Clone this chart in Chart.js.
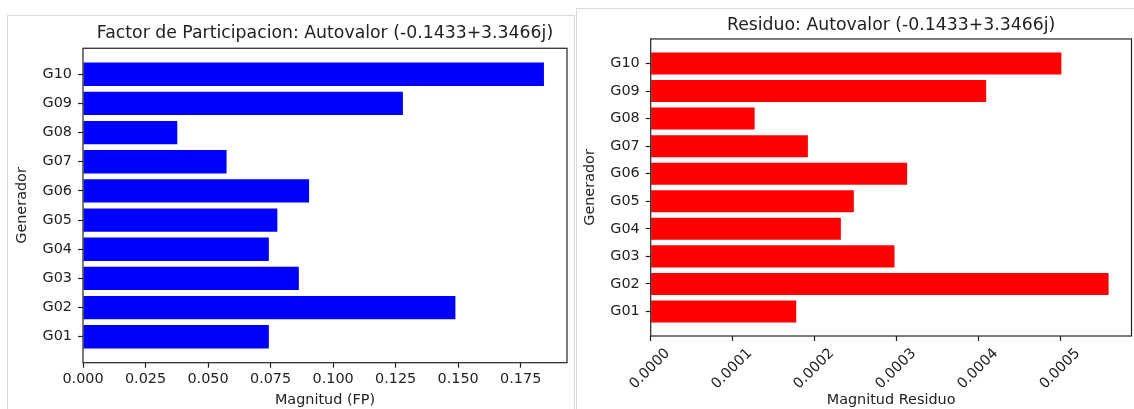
<!DOCTYPE html>
<html>
<head>
<meta charset="utf-8">
<script src="https://cdn.jsdelivr.net/npm/chart.js@4.4.1/dist/chart.umd.min.js"></script>
<style>
  html, body { margin: 0; padding: 0; background: #fff; overflow: hidden; }
  body { width: 1134px; height: 409px; position: relative; }
  .panel { position: absolute; border: 1px solid #dadada; box-sizing: border-box; }
  .box { position: absolute; }
</style>
</head>
<body>
<div class="panel" style="left:7px;top:15px;width:568px;height:420px"></div>
<div class="panel" style="left:576px;top:8px;width:580px;height:420px"></div>
<div class="box" style="left:7px;top:15px;width:567px;height:394px"><canvas id="fpChart"></canvas></div>
<div class="box" style="left:576px;top:8px;width:558px;height:401px"><canvas id="resChart"></canvas></div>
<script>
const generators = ["G01", "G02", "G03", "G04", "G05", "G06", "G07", "G08", "G09", "G10"];
const participation = [0.0743, 0.1489, 0.0863, 0.0743, 0.0777, 0.0904, 0.0574, 0.0377, 0.1279, 0.1843];
const residue = [0.0001774, 0.0005582, 0.0002972, 0.0002318, 0.0002476, 0.0003126, 0.0001916, 0.0001267, 0.000409, 0.0005006];
const fpTicks = [0, 0.025, 0.05, 0.075, 0.1, 0.125, 0.15, 0.175];
const residueTicks = [0, 0.0001, 0.0002, 0.0003, 0.0004, 0.0005];

Chart.defaults.font.family = "'DejaVu Sans', sans-serif";
Chart.defaults.color = "#222222";
Chart.defaults.animation = false;

const ink = "#222222";

// matplotlib-like box around the axes + title centred over the plot area
const axesFrame = {
  id: "axesFrame",
  afterLayout(chart) {
    const t = chart.titleBlock;
    if (t) {
      t.left = chart.chartArea.left;
      t.right = chart.chartArea.right;
      t.width = t.right - t.left;
    }
  },
  afterDatasetsDraw(chart) {
    const { ctx, chartArea: a } = chart;
    ctx.save();
    ctx.strokeStyle = ink;
    ctx.lineWidth = 1.2;
    ctx.strokeRect(a.left, a.top, a.right - a.left, a.bottom - a.top);
    ctx.restore();
  }
};

// bar category limits like matplotlib: bars of width 0.8 plus 5% margin
const span = generators.length - 1 + 0.8;
const yMin = -0.4 - 0.05 * span;
const yMax = generators.length - 1 + 0.4 + 0.05 * span;

function buildChart(id, values, color, ticks, cfg) {
  return new Chart(document.getElementById(id), {
    type: "bar",
    data: {
      datasets: [{
        data: values.map((v, i) => ({ x: v, y: i })),
        backgroundColor: color,
        borderWidth: 0,
        categoryPercentage: 1,
        barPercentage: 0.8
      }]
    },
    options: {
      indexAxis: "y",
      responsive: true,
      maintainAspectRatio: false,
      layout: { padding: { left: 0, right: cfg.padRight, top: 0, bottom: 0 } },
      plugins: {
        legend: { display: false },
        tooltip: { enabled: false },
        title: {
          display: true,
          text: cfg.title,
          color: ink,
          font: { size: 17.3, weight: "normal" },
          padding: cfg.titlePad
        }
      },
      scales: {
        x: {
          type: "linear",
          min: 0,
          max: Math.max(...values) * 1.05,
          offset: false,
          afterBuildTicks: axis => { axis.ticks = ticks.map(v => ({ value: v })); },
          afterFit: axis => { axis.height = cfg.xHeight; },
          ticks: {
            autoSkip: false,
            minRotation: cfg.rotation,
            maxRotation: cfg.rotation,
            labelOffset: cfg.labelOffset,
            padding: cfg.xTickPad,
            color: ink,
            font: { size: 14.4 },
            callback: v => v.toFixed(cfg.decimals)
          },
          grid: { offset: false, drawOnChartArea: false, tickLength: 5, tickColor: ink, tickWidth: 1.2 },
          border: { display: false },
          title: { display: true, text: cfg.xLabel, color: ink, font: { size: 14.4 }, padding: { top: 0, bottom: 0 } }
        },
        y: {
          type: "linear",
          min: yMin,
          max: yMax,
          offset: false,
          afterBuildTicks: axis => { axis.ticks = generators.map((_, i) => ({ value: i })); },
          afterFit: axis => { axis.width = cfg.yWidth; },
          ticks: {
            autoSkip: false,
            padding: 6,
            color: ink,
            font: { size: 14.4 },
            callback: v => generators[v]
          },
          grid: { offset: false, drawOnChartArea: false, tickLength: 5, tickColor: ink, tickWidth: 1.2 },
          border: { display: false },
          title: { display: true, text: "Generador", color: ink, font: { size: 14.4 }, padding: { top: cfg.yTitlePad, bottom: 0 } }
        }
      }
    },
    plugins: [axesFrame]
  });
}

buildChart("fpChart", participation, "#0000ff", fpTicks, {
  title: "Factor de Participacion: Autovalor (-0.1433+3.3466j)",
  xLabel: "Magnitud (FP)",
  decimals: 3,
  rotation: 0,
  labelOffset: 0,
  xTickPad: 3,
  padRight: 7,
  yWidth: 76,
  xHeight: 46.3,
  yTitlePad: 7,
  titlePad: { top: 8.6, bottom: 3.9 }
});

buildChart("resChart", residue, "#ff0000", residueTicks, {
  title: "Residuo: Autovalor (-0.1433+3.3466j)",
  xLabel: "Magnitud Residuo",
  decimals: 4,
  rotation: 45,
  labelOffset: 17,
  xTickPad: 4,
  padRight: 2.5,
  yWidth: 74.7,
  xHeight: 73,
  yTitlePad: 6,
  titlePad: { top: 7.1, bottom: 3.1 }
});
</script>
</body>
</html>
